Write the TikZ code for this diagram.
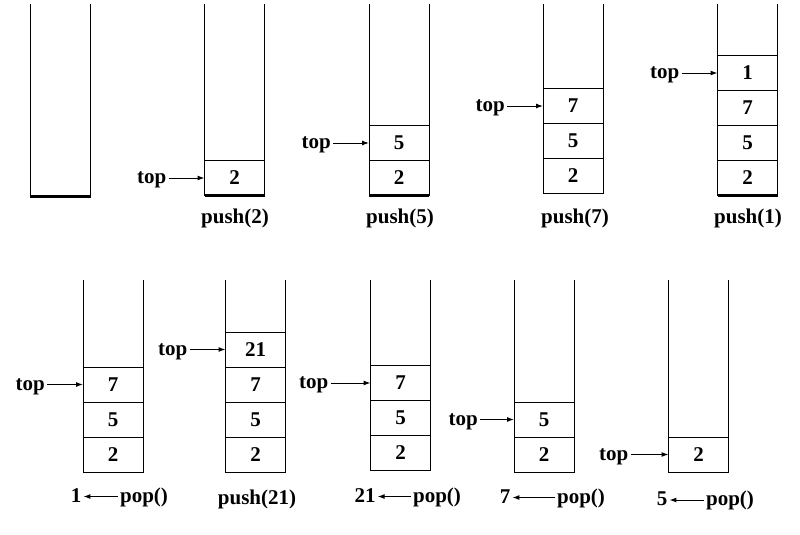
\documentclass[tikz,border=0pt]{standalone}
\usepackage{fontspec}
\setmainfont{Liberation Serif}
\usetikzlibrary{positioning, arrows.meta}
\tikzset{
        >={Latex[length=7pt,width=5pt]}, % small filled heads
        cell/.style={draw, line width=1pt, minimum width=60pt, minimum height=35pt,
                     inner sep=0pt, outer sep=0pt, font=\bfseries\fontsize{21}{21}\selectfont},
        lbl/.style={font=\bfseries\fontsize{21}{21}\selectfont, inner sep=2pt,
                    text height=11pt, text depth=0pt},
        wall/.style={line width=1pt},
        base/.style={line width=3pt},
        ptr/.style={->, line width=1pt}
        }

\begin{document}
\begin{tikzpicture}[x=1pt, y=-1pt]
        \useasboundingbox (0,0) rectangle (800,535);
        % first row: pushes
        \draw[wall] (30,4) -- (30,196) (90,196) -- (90,4);
        \draw[base] (29.5,196) -- (90.5,196);

        \node[cell] (a1) at (234.5,178) {2};
        \node[lbl, left=36pt of a1] (ta) {top};
        \node[lbl] (oa) at (235,218) {push(2)};

        \node[cell] (b1) at (399,178) {2};
        \node[cell, above=0pt of b1] (b2) {5};
        \node[lbl, left=36pt of b2] (tb) {top};
        \node[lbl] (ob) at (400,218) {push(5)};

        \node[cell] (c1) at (573,176) {2};
        \node[cell, above=0pt of c1] (c2) {5};
        \node[cell, above=0pt of c2] (c3) {7};
        \node[lbl, left=36pt of c3] (tc) {top};
        \node[lbl] (oc) at (575,218) {push(7)};

        \node[cell] (d1) at (747.5,178) {2};
        \node[cell, above=0pt of d1] (d2) {5};
        \node[cell, above=0pt of d2] (d3) {7};
        \node[cell, above=0pt of d3] (d4) {1};
        \node[lbl, left=36pt of d4] (td) {top};
        \node[lbl] (od) at (748,218) {push(1)};

        \foreach \s in {a1,b1,c1,d1}
          \draw[wall] (\s.south west) -- (\s.south west |- 0,4)
                      (\s.south east) -- (\s.south east |- 0,4);
        \foreach \s in {a1,b1,d1}
          \draw[base] (\s.south west) -- (\s.south east);
        \draw[ptr] (ta) -- (a1);
        \draw[ptr] (tb) -- (b2);
        \draw[ptr] (tc) -- (c3);
        \draw[ptr] (td) -- (d4);

        % second row: pops
        \node[cell] (e1) at (113,454.5) {2};
        \node[cell, above=0pt of e1] (e2) {5};
        \node[cell, above=0pt of e2] (e3) {7};
        \node[lbl, left=36pt of e3] (te) {top};
        \node[lbl] (re) at (76,496.5) {1};
        \node[lbl] (oe) at (144,496.5) {pop()};

        \node[cell] (f1) at (255.5,454.5) {2};
        \node[cell, above=0pt of f1] (f2) {5};
        \node[cell, above=0pt of f2] (f3) {7};
        \node[cell, above=0pt of f3] (f4) {21};
        \node[lbl, left=36pt of f4] (tf) {top};
        \node[lbl] (of) at (257,499) {push(21)};

        \node[cell] (g1) at (400.5,453) {2};
        \node[cell, above=0pt of g1] (g2) {5};
        \node[cell, above=0pt of g2] (g3) {7};
        \node[lbl, left=40pt of g3] (tg) {top};
        \node[lbl] (rg) at (365,496.5) {21};
        \node[lbl] (og) at (437,496.5) {pop()};

        \node[cell] (h1) at (544,454.5) {2};
        \node[cell, above=0pt of h1] (h2) {5};
        \node[lbl, left=34pt of h2] (th) {top};
        \node[lbl] (rh) at (505,497.5) {7};
        \node[lbl] (oh) at (581,497.5) {pop()};

        \node[cell] (k1) at (698.5,454.5) {2};
        \node[lbl, left=38pt of k1] (tk) {top};
        \node[lbl] (rk) at (662,500) {5};
        \node[lbl] (ok) at (730,500) {pop()};

        \foreach \s in {e1,f1,g1,h1,k1}
          \draw[wall] (\s.south west) -- (\s.south west |- 0,280)
                      (\s.south east) -- (\s.south east |- 0,280);
        \draw[ptr] (te) -- (e3);
        \draw[ptr] (tf) -- (f4);
        \draw[ptr] (tg) -- (g3);
        \draw[ptr] (th) -- (h2);
        \draw[ptr] (tk) -- (k1);
        \draw[ptr] (oe) -- (re);
        \draw[ptr] (og) -- (rg);
        \draw[ptr] (oh) -- (rh);
        \draw[ptr] (ok) -- (rk);
\end{tikzpicture}
\end{document}
